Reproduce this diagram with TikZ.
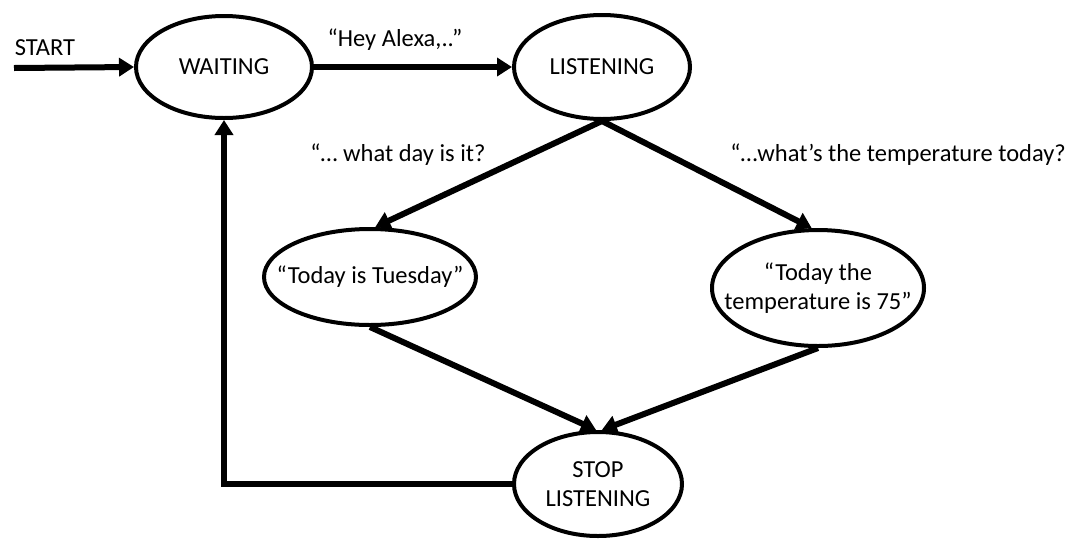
\documentclass[tikz,border=0pt]{standalone}
\usepackage{fontspec}
\setmainfont{Carlito}
\usetikzlibrary{arrows.meta,shapes.geometric}
\begin{document}
\begin{tikzpicture}[x=1pt,y=-1pt,
  every node/.style={font=\fontsize{24.5}{29}\selectfont},
  state/.style={ellipse,draw,line width=4pt,inner xsep=-30pt,inner ysep=-12pt,align=center},
  conn/.style={line width=6pt,-{Triangle[length=15pt,width=18pt]}},
  lbl/.style={inner sep=0pt}]
\useasboundingbox (0,0) rectangle (1076,547);
\node[state,minimum width=176pt,minimum height=102pt] (W) at (224,67) {WAITING};
\node[state,minimum width=176pt,minimum height=104pt] (L) at (602,67) {LISTENING};
\node[state,minimum width=212pt,minimum height=96pt] (T) at (370,277) {“Today is Tuesday”};
\node[state,minimum width=212pt,minimum height=116pt] (P) at (818,288) {“Today the\\temperature is 75”};
\node[state,minimum width=168pt,minimum height=104pt] (S) at (598,484) {STOP\\LISTENING};
\coordinate (st) at (14,68);
\node[lbl] (startlbl) at (45,48) {START};
\node[lbl] (heylbl) at (395,40) {“Hey Alexa,..”};
\node[lbl] (daylbl) at (398,155) {“… what day is it?};
\node[lbl] (templbl) at (898,155) {“…what’s the temperature today?};
\draw[conn] (st) -- (W.west);
\draw[conn] (W.east) -- (L.west);
\draw[conn] (L.south) -- (T.84);
\draw[conn] (L.south) -- (P.96);
\draw[conn] (T.south) -- (S.92);
\draw[conn] (P.south) -- (S.86);
\draw[conn] (S.west) -| (W.south);
\end{tikzpicture}
\end{document}
